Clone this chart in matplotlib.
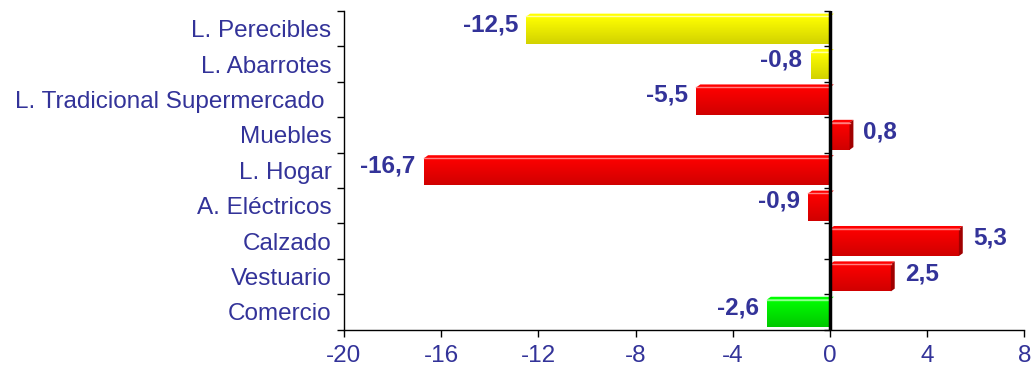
import numpy as np
import matplotlib
matplotlib.use("Agg")
import matplotlib.pyplot as plt
from matplotlib.patches import Polygon
from matplotlib.colors import to_rgb

# =========================
# Data
# =========================
categorias = ["L. Perecibles", "L. Abarrotes", "L. Tradicional Supermercado ",
              "Muebles", "L. Hogar", "A. Eléctricos", "Calzado", "Vestuario", "Comercio"]
valores = [-12.5, -0.8, -5.5, 0.8, -16.7, -0.9, 5.3, 2.5, -2.6]
grupos = ["amarillo", "amarillo", "rojo", "rojo", "rojo", "rojo", "rojo", "rojo", "verde"]
x_ticks = [-20, -16, -12, -8, -4, 0, 4, 8]

# =========================
# Style
# =========================
azul = "#333399"
fs = 17.5
plt.rcParams["font.family"] = ["Liberation Sans", "DejaVu Sans"]

# top, bottom, side, highlight
paleta = {
    "rojo": ("#FF0000", "#D00000", "#A00000", "#FF8080"),
    "amarillo": ("#FFFF00", "#D2D200", "#A0A000", "#FFFFA0"),
    "verde": ("#00FF00", "#00C800", "#009000", "#90FF90"),
}

h = 0.85      # bar thickness (category units)
dx = 0.16     # 3d depth in x (data units)
dy = 0.08     # 3d depth in y (category units)

fig = plt.figure(figsize=(10.33, 3.66), dpi=100)
ax = fig.add_axes([344 / 1033, 1 - 329.5 / 366, (1024.5 - 344) / 1033, (329.5 - 11) / 366])

y = np.arange(len(categorias))

# front faces
bars = ax.barh(y + dy / 2, valores, height=h - dy, color=[paleta[g][1] for g in grupos],
               zorder=2)

for bar, v, g, c in zip(bars, valores, grupos, y):
    top, bottom, side, light = paleta[g]
    a, b = min(0, v), max(0, v)
    yt, yb = c - h / 2, c + h / 2

    # vertical gradient on the front face
    grad = np.linspace(0, 1, 64)[:, None, None]
    img = (1 - grad) * np.array(to_rgb(top)) + grad * np.array(to_rgb(bottom))
    im = ax.imshow(img, extent=(a, b, yb, yt + dy), aspect="auto", zorder=2.1,
                   interpolation="bilinear")
    im.set_clip_path(bar)

    # top face
    ax.add_patch(Polygon([(a, yt + dy), (b, yt + dy), (b + dx, yt), (a + dx, yt)],
                         closed=True, facecolor=top, edgecolor="none", zorder=2.2))
    ax.plot([a, b], [yt + dy, yt + dy], color=light, lw=1, zorder=2.3)

    # right side face for positive bars
    if v > 0:
        ax.add_patch(Polygon([(b, yt + dy), (b + dx, yt), (b + dx, yb - dy), (b, yb)],
                             closed=True, facecolor=side, edgecolor="none", zorder=2.2))

    # value labels
    txt = f"{v:.1f}".replace(".", ",")
    if v < 0:
        ax.annotate(txt, xy=(v, c), xytext=(-6, 3), textcoords="offset points",
                    ha="right", va="center", fontsize=fs, fontweight="bold", color=azul)
    else:
        ax.annotate(txt, xy=(v, c), xytext=(10, 2), textcoords="offset points",
                    ha="left", va="center", fontsize=fs, fontweight="bold", color=azul)

# =========================
# Axes
# =========================
ax.set_xlim(x_ticks[0], x_ticks[-1])
ax.set_ylim(len(categorias) - 0.5, -0.5)

ax.set_xticks(x_ticks)
ax.set_xticklabels([str(t) for t in x_ticks])
ax.tick_params(axis="x", length=5, width=1, pad=6, labelsize=fs, labelcolor=azul,
               color="black")

ax.set_yticks(y)
ax.set_yticklabels(categorias)
ax.set_yticks(np.arange(-0.5, len(categorias)), minor=True)
ax.tick_params(axis="y", which="major", length=0, pad=9, labelsize=fs, labelcolor=azul)
ax.tick_params(axis="y", which="minor", length=5, width=1, color="black")

for s in ["top", "right"]:
    ax.spines[s].set_visible(False)
ax.spines["left"].set_linewidth(1)
ax.spines["bottom"].set_linewidth(1)

# zero line with its own ticks
ax.axvline(0, color="black", lw=2.5, zorder=4)
zero = ax.secondary_yaxis((0 - x_ticks[0]) / (x_ticks[-1] - x_ticks[0]))
zero.set_zorder(5)
zero.set_yticks(np.arange(-0.5, len(categorias)))
zero.set_yticklabels([])
zero.yaxis.set_ticks_position("left")
zero.tick_params(length=4, width=1, color="black", direction="out")
for s in zero.spines.values():
    s.set_color("black")

fig.savefig("out.png", dpi=100)
